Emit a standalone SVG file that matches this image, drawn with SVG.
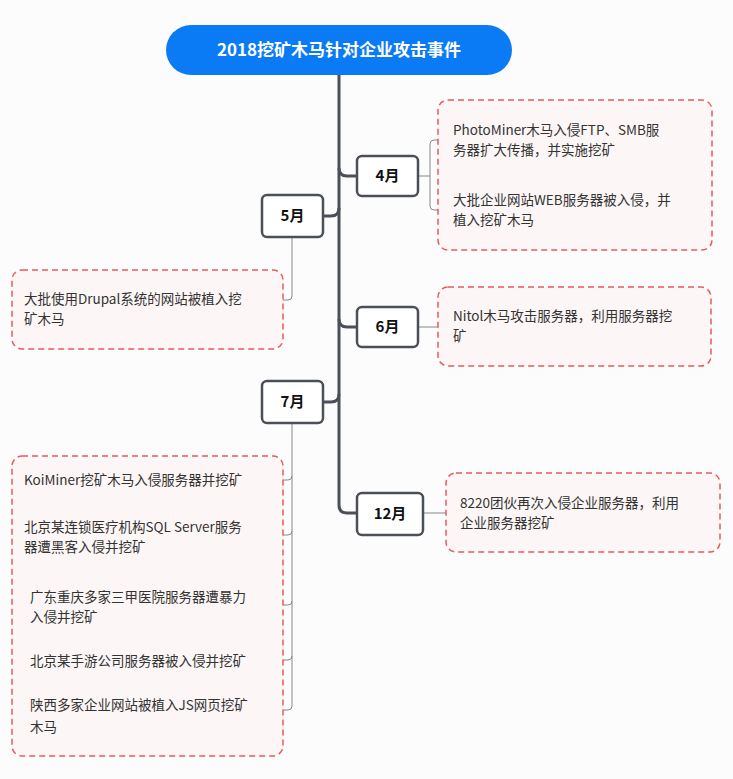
<svg xmlns="http://www.w3.org/2000/svg" width="733" height="779" viewBox="0 0 733 779">
<style>
.m{fill:#fff;stroke:#4b4f58;stroke-width:2.5}
.mt{font:bold 15px "Noto Sans CJK SC","Noto Sans",sans-serif;fill:#111;text-anchor:middle}
.d{fill:#fcf6f6;stroke:#e8595b;stroke-width:1.5;stroke-dasharray:6 4}
.t{font:13.5px "Noto Sans CJK SC","Noto Sans",sans-serif;fill:#333}
.c{fill:none;stroke:#4b4f58;stroke-width:3}
.s{fill:none;stroke:#888;stroke-width:1}
</style>
<rect width="733" height="779" fill="#fdfcfd"/>
<g id="connectors">
<path class="c" d="M339 75V505Q339 513 347 513H357"/>
<path class="c" d="M339 168Q339 176 347 176H357"/>
<path class="c" d="M339 208Q339 216 331 216H323"/>
<path class="c" d="M339 319Q339 327 347 327H357"/>
<path class="c" d="M339 394Q339 402 331 402H323"/>
<path class="s" d="M418 176H430M438 140H434Q430 140 430 144V206Q430 210 434 210H438"/>
<path class="s" d="M292 237V296Q292 300 288 300H283"/>
<path class="s" d="M418 327H438"/>
<path class="s" d="M423 513H446"/>
<path class="s" d="M292 423V706Q292 710 288 710H283M292 476Q292 480 288 480H283M292 531Q292 535 288 535H283M292 601Q292 605 288 605H283M292 656Q292 660 288 660H283"/>
</g>
<g id="title"><rect x="166" y="25" width="346" height="50" rx="25" fill="#0b7bf5"/><text x="339" y="56" text-anchor="middle" style="font:bold 17px 'Noto Sans CJK SC','Noto Sans',sans-serif;fill:#fff">2018挖矿木马针对企业攻击事件</text></g>
<g id="m4"><rect class="m" x="357" y="156" width="61" height="40" rx="5"/><text class="mt" x="387.5" y="181">4月</text></g>
<g id="m5"><rect class="m" x="262" y="195" width="61" height="42" rx="5"/><text class="mt" x="292.5" y="221">5月</text></g>
<g id="m6"><rect class="m" x="357" y="307" width="61" height="40" rx="5"/><text class="mt" x="387.5" y="332">6月</text></g>
<g id="m7"><rect class="m" x="262" y="381" width="61" height="42" rx="5"/><text class="mt" x="292.5" y="407">7月</text></g>
<g id="m12"><rect class="m" x="357" y="493" width="66" height="42" rx="5"/><text class="mt" x="390" y="519">12月</text></g>
<g id="d4"><rect class="d" x="438" y="100" width="274" height="150" rx="10"/>
<text class="t" x="453" y="135">PhotoMiner木马入侵FTP、SMB服</text><text class="t" x="453" y="155">务器扩大传播，并实施挖矿</text>
<text class="t" x="453" y="205">大批企业网站WEB服务器被入侵，并</text><text class="t" x="453" y="225">植入挖矿木马</text></g>
<g id="d5"><rect class="d" x="12" y="270" width="271" height="79" rx="10"/>
<text class="t" x="24" y="304">大批使用Drupal系统的网站被植入挖</text><text class="t" x="24" y="324">矿木马</text></g>
<g id="d6"><rect class="d" x="438" y="287" width="273" height="79" rx="10"/>
<text class="t" x="453" y="321">Nitol木马攻击服务器，利用服务器挖</text><text class="t" x="453" y="341">矿</text></g>
<g id="d12"><rect class="d" x="446" y="473" width="274" height="79" rx="10"/>
<text class="t" x="460" y="508">8220团伙再次入侵企业服务器，利用</text><text class="t" x="460" y="528">企业服务器挖矿</text></g>
<g id="d7"><rect class="d" x="12" y="456" width="271" height="300" rx="10"/>
<text class="t" x="24" y="485">KoiMiner挖矿木马入侵服务器并挖矿</text>
<text class="t" x="24" y="532">北京某连锁医疗机构SQL Server服务</text><text class="t" x="24" y="552">器遭黑客入侵并挖矿</text>
<text class="t" x="30" y="602">广东重庆多家三甲医院服务器遭暴力</text><text class="t" x="30" y="622">入侵并挖矿</text>
<text class="t" x="30" y="666">北京某手游公司服务器被入侵并挖矿</text>
<text class="t" x="30" y="710">陕西多家企业网站被植入JS网页挖矿</text><text class="t" x="30" y="732">木马</text></g>
</svg>
